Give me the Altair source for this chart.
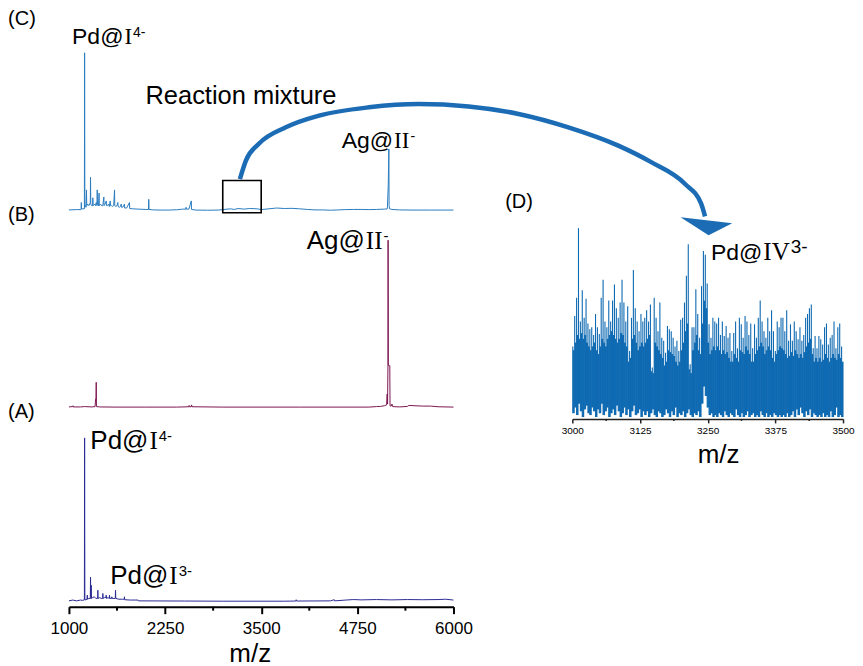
import altair as alt
import pandas as pd

SANS = "Liberation Sans, Arial, sans-serif"
SERIF = "Liberation Serif, Times New Roman, serif"

# ---------------- data ----------------
# (C) reaction mixture, relative intensity (%)
c_mz = [1000, 1100, 1150, 1158, 1161, 1164, 1195, 1201, 1204, 1207, 1215, 1222, 1228, 1232,
        1245, 1258, 1270, 1278, 1281, 1284, 1295, 1308, 1311, 1314, 1330, 1345, 1355, 1365,
        1368, 1371, 1385, 1392, 1395, 1410, 1425, 1440, 1454, 1457, 1470, 1485, 1488, 1500,
        1515, 1525, 1537, 1540, 1555, 1570, 1582, 1593, 1596, 1610, 1625, 1636, 1639, 1655,
        1670, 1680, 1683, 1700, 1722, 1725, 1750, 1787, 1790, 1830, 1900, 2000, 2035, 2038,
        2041, 2100, 2200, 2300, 2400, 2480, 2520, 2523, 2526, 2560, 2591, 2594, 2650, 2800,
        2950, 3000, 3100, 3150, 3200, 3280, 3350, 3450, 3500, 3600, 3700, 3800, 3900, 4000,
        4100, 4200, 4300, 4400, 4500, 4600, 4700, 4800, 4900, 5000, 5100, 5140, 5152, 5160,
        5163, 5170, 5200, 5300, 5500, 5700, 5900, 6000]
c_int = [0.3, 0.5, 0.5, 0.5, 5, 1, 1, 1, 100, 2, 3, 2, 13, 3,
         4, 3, 4, 5, 21, 4, 3, 3, 8, 3, 4, 3, 5, 3,
         13, 4, 3, 11, 3, 4, 3, 3, 8.5, 3, 4, 6, 3, 3,
         4, 2.5, 6, 3, 3, 2.5, 3, 13, 3, 2.5, 3, 5, 2.5, 2,
         2.5, 4, 2, 2, 4, 1.5, 1.5, 5, 1.2, 1, 0.8, 0.6, 0.6, 7,
         0.6, 0.3, 0.2, 0.2, 0.4, 0.8, 0.8, 2, 0.8, 0.8, 6, 0.6, 0.2, 0.1,
         0.2, 0.5, 1, 0.6, 1.2, 0.8, 1.2, 1, 0.5, 1, 1.5, 1.2, 1.3, 1.0,
         0.6, 0.3, 0.3, 0.1, 0.3, 0.5, 0.6, 0.6, 0.5, 0.6, 0.8, 1, 16, 39,
         3, 1, 0.6, 0.3, 0.2, 0.2, 0.2, 0.2]

# (B)
b_mz = [1000, 1050, 1053, 1056, 1150, 1200, 1300, 1340, 1347, 1352, 1355, 1358, 1400, 1600,
        2000, 2400, 2560, 2563, 2566, 2590, 2595, 2600, 3000, 4000, 4900, 5000, 5050, 5100,
        5130, 5138, 5143, 5148, 5150, 5153, 5165, 5172, 5175, 5190, 5200, 5210, 5300, 5400,
        5420, 5500, 5600, 5700, 5800, 6000]
b_int = [0.3, 0.5, 1, 0.3, 0.3, 0.5, 0.3, 0.5, 5, 5, 15, 0.5, 0.3, 0.2,
         0.2, 0.2, 0.4, 1.2, 0.4, 0.4, 1.5, 0.4, 0.2, 0.2, 0.2, 0.5, 0.6, 1,
         1.5, 8, 2, 25, 100, 25, 25, 25, 1, 0.8, 2, 0.5, 0.3, 0.6,
         1.2, 1, 0.8, 0.8, 0.4, 0.2]

# (A)
a_mz = [1000, 1050, 1100, 1150, 1180, 1195, 1201, 1204, 1207, 1235, 1239, 1242, 1260, 1278,
        1281, 1284, 1287, 1290, 1293, 1310, 1330, 1350, 1373, 1376, 1379, 1400, 1420, 1438,
        1441, 1444, 1460, 1482, 1485, 1488, 1510, 1525, 1528, 1531, 1555, 1558, 1561, 1585,
        1603, 1606, 1609, 1650, 1700, 1719, 1722, 1725, 1800, 1900, 1905, 2500, 3000, 3800,
        3950, 3955, 3960, 4400, 4450, 4455, 4600, 4700, 4800, 5000, 5200, 5400, 5600, 5800,
        5900, 6000]
a_int = [0.5, 1, 0.5, 1, 0.8, 1, 1.5, 100, 1, 1.5, 4, 1.5, 2, 2,
         15, 2.5, 2, 10, 2, 2.5, 3, 2, 2, 7, 2, 2.5, 2, 2,
         5, 2, 2.5, 2.5, 4, 2, 2.5, 2, 4, 2, 2, 3, 2, 2,
         2, 7, 2, 1.5, 1.5, 1.5, 3, 1.2, 1, 1, 0.5, 0.4, 0.3, 0.3,
         0.4, 1.2, 0.4, 0.5, 1.2, 0.5, 1, 1.3, 1.1, 1.3, 1.1, 1.3, 1.2, 1.3,
         1.5, 1]

# (D) zoom 3000-3500 (%): spike maxima, minima at the foot, and the valley level between spikes
d_high = [38, 54, 63.5, 100, 51, 67.5, 53, 63, 50, 47, 48, 44, 55, 48, 44.5, 63.5, 73, 51, 48, 62,
          51, 62, 70.5, 58, 53, 61, 73, 61, 51, 59, 35.6, 53, 78, 58, 51, 46, 55, 51,
          53, 57, 51, 60, 27, 63.5, 53, 46, 61, 42.6, 41, 34.7, 48.7, 47, 46, 42.6, 38, 41, 35.6, 52,
          53, 61, 75, 91.5, 28.6, 48, 48, 68, 55, 42.6, 69.6, 88, 86, 71, 49.6, 42.6, 53, 51,
          50, 53, 44, 51, 43.5, 48.7, 42.6, 45, 35.6, 45, 51, 37, 53, 49.6, 42.6, 54, 51, 44, 50, 37,
          49.6, 42.6, 53, 62, 51, 46, 42.6, 53, 46, 57, 46, 35.6, 51, 48, 53,
          53, 46, 57, 41, 49.6, 41, 51, 46, 41.8, 48, 41, 44, 53, 55, 58, 60, 37, 43.5, 37, 43.5,
          41.8, 39, 48, 50, 39, 42.6, 44, 51, 37, 48, 50, 38]
d_low = [3, 6, 2, 8, 4, 1, 5, 7, 3, 2, 6, 4, 1, 5, 3, 8, 2, 4, 6, 1,
         3, 5, 2, 7, 4, 1, 3, 6, 2, 5, 1, 4, 7, 2, 3, 5, 1, 4,
         2, 4, 1, 3, 5, 2, 1, 4, 3, 1, 2, 5, 3, 1, 4, 2, 6, 1, 3, 2,
         4, 1, 3, 5, 2, 1, 3, 2, 4, 1, 8, 17, 12, 6, 2, 3, 1, 2,
         1, 3, 2, 1, 4, 2, 1, 3, 2, 1, 5, 2, 1, 3, 1, 2, 4, 1, 2, 3,
         1, 2, 1, 4, 2, 1, 3, 1, 2, 1, 3, 2, 1, 2, 1,
         2, 1, 3, 1, 2, 4, 1, 5, 2, 6, 3, 1, 4, 2, 5, 1, 3, 2, 1, 2,
         1, 3, 1, 2, 1, 4, 1, 2, 6, 1, 2, 1]
d_valley = [36, 40, 44, 42, 45, 42, 44, 40, 38, 36, 38, 40, 36, 34, 38, 42, 40, 38, 42, 44,
            46, 44, 42, 40, 42, 45, 44, 40, 38, 30, 32, 42, 44, 40, 36, 38, 40, 38,
            40, 42, 44, 25, 24, 40, 38, 36, 34, 32, 28, 30, 36, 35, 34, 33, 30, 28, 30, 36,
            40, 46, 50, 26, 24, 36, 40, 44, 36, 34, 50, 62, 58, 40, 34, 36, 38, 36,
            38, 36, 34, 36, 34, 35, 32, 30, 30, 34, 32, 30, 36, 35, 34, 38, 36, 34, 30, 30,
            34, 36, 38, 40, 38, 34, 36, 38, 36, 32, 30, 34, 36, 38, 37,
            36, 34, 32, 33, 35, 33, 36, 34, 32, 34, 32, 35, 38, 40, 42, 34, 30, 32, 30, 32,
            30, 31, 34, 32, 30, 32, 34, 32, 31, 34, 32, 30]

major_main = [1000, 2250, 3500, 4750, 6000]
minor_main = [1625, 2875, 4125, 5375]
major_zoom = [3000, 3125, 3250, 3375, 3500]
minor_zoom = [3062.5, 3187.5, 3312.5, 3437.5]

# curved arrow (panel C units) and arrow head
arrow_mz = [3223, 3301, 3473, 3820, 4252, 4900, 5549, 6197, 6846, 7494, 8143, 8571, 9008, 9219, 9271]
arrow_i = [19.9, 31.6, 42.4, 52.7, 60.1, 65.4, 67.5, 66.0, 61.2, 52.7, 41.1, 30.6, 16.9, 4.4, -3.8]
head_mz = [9290]
head_i = [-7.6]

box_mz = [3000, 3500]
box_i = [-1.5, 19]

# ---------------- style ----------------
C_COLOR = "#2a7cc0"
ARROW = "#1b6cb4"
D_COLOR = "#0f6ab2"
B_COLOR = "#7d1650"
A_COLOR = "#2b2b95"

W = 385
H_LEFT = 586
# vertical placement of the three stacked spectra: (baseline offset, gain)
PANEL = {"C": (238.9, 0.962), "B": (118.6, 1.021), "A": (0.0, 1.0)}
Y_LEFT = [-3.05, 354.3]
XM = [1000, 6000]

axis_a = alt.Axis(values=major_main, format="d", tickSize=7, tickWidth=2, tickColor="black",
                  domainColor="black", domainWidth=2, labelFont=SANS, labelFontSize=17,
                  labelColor="black", labelPadding=7, labelFlush=False, grid=False,
                  title="m/z", titleFont=SANS, titleFontSize=26, titleFontWeight="normal",
                  titleColor="black", titleX=181, titleY=55, titleAlign="center",
                  titleBaseline="alphabetic")


def stack(panel, vals):
    base, gain = PANEL[panel]
    return [base + v * gain for v in vals]


def xl():
    return alt.X("mz:Q", scale=alt.Scale(domain=XM), axis=axis_a)


def yl():
    return alt.Y("i:Q", scale=alt.Scale(domain=Y_LEFT), axis=None)


def left_text(panel, mz, inten, txt, size, font=SANS, align="left", dx=0, dy=0):
    df = pd.DataFrame({"mz": [mz], "i": stack(panel, [inten])})
    return alt.Chart(df).mark_text(text=txt, font=font, fontSize=size, align=align,
                                   baseline="alphabetic", dx=dx, dy=dy, color="black").encode(x=xl(), y=yl())


def left_ion(panel, mz, inten, prefix, numeral, charge, fs, fn, fsup):
    numw = {"I": 0.333, "II": 0.666, "IV": 1.055}[numeral] * fn
    return [
        left_text(panel, mz, inten, prefix, fs, align="right"),
        left_text(panel, mz, inten, numeral, fn, font=SERIF, dx=1),
        left_text(panel, mz, inten, charge, fsup, dx=numw + 2, dy=-round(fs * 0.3)),
    ]


def left_spec(panel, mz, inten, color):
    df = pd.DataFrame({"mz": mz, "i": stack(panel, inten)})
    return alt.Chart(df).mark_line(color=color, strokeWidth=1.0).encode(x=xl(), y=yl())


box = alt.Chart(pd.DataFrame({"mz": [box_mz[0]], "mz2": [box_mz[1]],
                              "i": stack("C", [box_i[0]]), "i2": stack("C", [box_i[1]])})).mark_rect(
    fill="transparent", stroke="black", strokeWidth=1.6).encode(x=xl(), x2="mz2:Q", y=yl(), y2="i2:Q")
arrow = alt.Chart(pd.DataFrame({"mz": arrow_mz, "i": stack("C", arrow_i)})).mark_line(
    color=ARROW, strokeWidth=4.5, interpolate="monotone").encode(x=xl(), y=yl())
head = alt.Chart(pd.DataFrame({"mz": head_mz, "i": stack("C", head_i)})).mark_point(
    shape="M -1 -0.2 L 0.99 0.03 L 0.08 0.5 Z", size=2704, filled=True, color=ARROW,
    opacity=1, strokeWidth=0).encode(x=xl(), y=yl())
minor_a = alt.Chart(pd.DataFrame({"mz": minor_main})).mark_rule(color="black", strokeWidth=2).encode(
    x=xl(), y=alt.value(H_LEFT), y2=alt.value(H_LEFT + 4))

LBL_MZ = 209
left = alt.layer(
    left_spec("C", c_mz, c_int, C_COLOR),
    left_spec("B", b_mz, b_int, B_COLOR),
    left_spec("A", a_mz, a_int, A_COLOR),
    minor_a, box, arrow, head,
    left_text("C", LBL_MZ, 117.5, "(C)", 20),
    left_text("C", 1995, 67.5, "Reaction mixture", 25.5),
    *left_ion("C", 1709, 105.6, "Pd@", "I", "4-", 23, 23, 14),
    *left_ion("C", 5215, 39.6, "Ag@", "II", "-", 23, 23, 14),
    left_text("B", LBL_MZ, 111.3, "(B)", 20),
    *left_ion("B", 4848, 95, "Ag@", "II", "-", 26, 25, 15),
    left_text("A", LBL_MZ, 112.2, "(A)", 20),
    *left_ion("A", 2034, 93.1, "Pd@", "I", "4-", 26, 25, 15),
    *left_ion("A", 2293, 10.8, "Pd@", "I", "3-", 26, 25, 15),
).properties(width=W, height=H_LEFT)

# ---------------- panel D ----------------
XD = [3000, 3500]
DW = 271
DH = 398
YD = [0, DH / 1.91]
axis_d = alt.Axis(values=major_zoom, format="d", tickSize=4, tickWidth=1.5, tickColor="#222222",
                  domainColor="#222222", domainWidth=1.5, labelFont=SANS, labelFontSize=10,
                  labelColor="black", labelPadding=3, labelFlush=False, grid=False,
                  title="m/z", titleFont=SANS, titleFontSize=26, titleFontWeight="normal",
                  titleColor="black", titleX=146, titleY=44, titleAlign="center",
                  titleBaseline="alphabetic")


def xd():
    return alt.X("mz:Q", scale=alt.Scale(domain=XD), axis=axis_d)


def yd(field="i"):
    return alt.Y(f"{field}:Q", scale=alt.Scale(domain=YD), axis=None)


def d_text(mz, inten, txt, size, font=SANS, align="left", dx=0, dy=0):
    df = pd.DataFrame({"mz": [mz], "i": [inten]})
    return alt.Chart(df).mark_text(text=txt, font=font, fontSize=size, align=align,
                                   baseline="alphabetic", dx=dx, dy=dy, color="black").encode(x=xd(), y=yd())


n = len(d_high)
step = 500 / n
spike_mz = [3000 + (k + 0.25) * step for k in range(n)]
valley_mz = [3000 + (k + 0.75) * step for k in range(n)]
spikes = alt.Chart(pd.DataFrame({"mz": spike_mz, "lo": d_low, "i": d_high})).mark_rule(
    color=D_COLOR, strokeWidth=1.1).encode(x=xd(), y=yd("lo"), y2="i:Q")
valleys = alt.Chart(pd.DataFrame({"mz": valley_mz, "lo": d_low, "i": d_valley})).mark_rule(
    color=D_COLOR, strokeWidth=2.0).encode(x=xd(), y=yd("lo"), y2="i:Q")
minor_d = alt.Chart(pd.DataFrame({"mz": minor_zoom})).mark_rule(color="#222222", strokeWidth=1.5).encode(
    x=xd(), y=alt.value(DH), y2=alt.value(DH + 2))

numw = 1.055 * 25
panel_d = alt.layer(
    valleys, spikes, minor_d,
    d_text(2876, 110.5, "(D)", 20),
    d_text(3351, 83.2, "Pd@", 23, align="right"),
    d_text(3351, 83.2, "IV", 25, font=SERIF, dx=1),
    d_text(3351, 83.2, "3-", 19, dx=numw + 2, dy=-7),
).properties(width=DW, height=DH)

chart = alt.hconcat(left, panel_d, spacing=119, bounds="flush").properties(
    padding=0).configure_view(stroke=None)

chart.save("out.html", embed_options={"renderer": "svg", "actions": False})
